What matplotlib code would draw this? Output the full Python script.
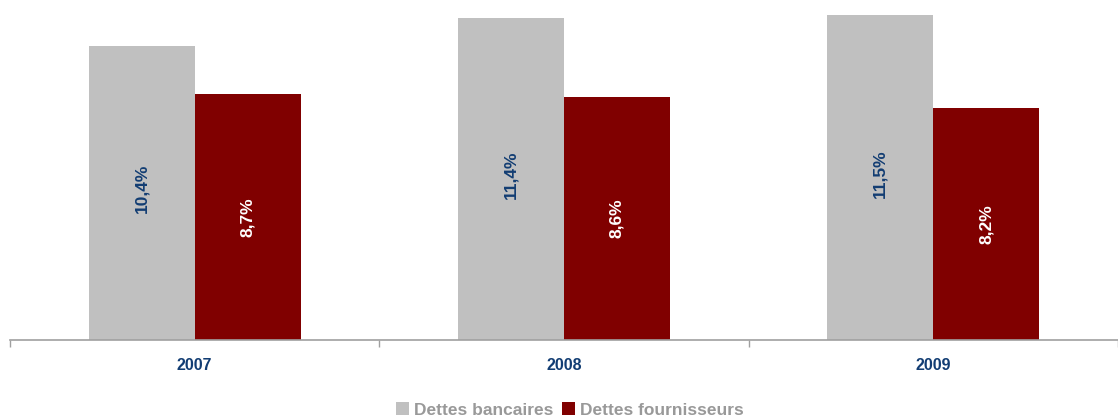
import matplotlib
matplotlib.use("Agg")
import matplotlib.pyplot as plt
import numpy as np

years = ["2007", "2008", "2009"]
dettes_bancaires = [10.4, 11.4, 11.5]
dettes_fournisseurs = [8.7, 8.6, 8.2]
labels_bancaires = ["10,4%", "11,4%", "11,5%"]
labels_fournisseurs = ["8,7%", "8,6%", "8,2%"]

plt.rcParams['font.family'] = ['Liberation Sans', 'DejaVu Sans']

W, H = 1118, 419
fig = plt.figure(figsize=(W / 100, H / 100), dpi=100)
ax = fig.add_axes([10 / W, 79 / H, 1108 / W, 340 / H])

x = np.arange(len(years))
bw = 0.287
gray = "#C0C0C0"
red = "#800000"
navy = "#123D73"

b1 = ax.bar(x - bw / 2, dettes_bancaires, bw, color=gray, label="Dettes bancaires")
b2 = ax.bar(x + bw / 2, dettes_fournisseurs, bw, color=red, label="Dettes fournisseurs")

for xi, v, t in zip(x, dettes_bancaires, labels_bancaires):
    ax.text(xi - bw / 2, v / 2 + 0.15, t, rotation=90, ha="center", va="center",
            color=navy, fontsize=12.5, fontweight="bold")
for xi, v, t in zip(x, dettes_fournisseurs, labels_fournisseurs):
    ax.text(xi + bw / 2, v / 2, t, rotation=90, ha="center", va="center",
            color="white", fontsize=12.5, fontweight="bold")

ax.set_xlim(-0.5, -0.5 + 1108 / 373.5)
ax.set_ylim(0, 12.03)
ax.set_yticks([])
for s in ["top", "right", "left"]:
    ax.spines[s].set_visible(False)
ax.spines["bottom"].set_color("#A0A0A0")
ax.spines["bottom"].set_linewidth(1.2)

ax.set_xticks(x)
ax.set_xticklabels(years, color=navy, fontsize=11.5, fontweight="bold")
ax.tick_params(axis="x", which="major", length=0, pad=13)
ax.set_xticks([-0.5, 0.5, 1.5, 2.5], minor=True)
ax.tick_params(axis="x", which="minor", length=5, color="#A0A0A0", width=1)

leg = fig.legend(handles=[b1, b2], loc="center", bbox_to_anchor=(570 / W, 1 - 410 / H),
                 ncol=2, frameon=False, handlelength=0.75, handleheight=0.75,
                 handletextpad=0.3, columnspacing=0.5,
                 prop={"weight": "bold", "size": 12.5})
for t in leg.get_texts():
    t.set_color("#999999")

fig.savefig("out.png", dpi=100)
